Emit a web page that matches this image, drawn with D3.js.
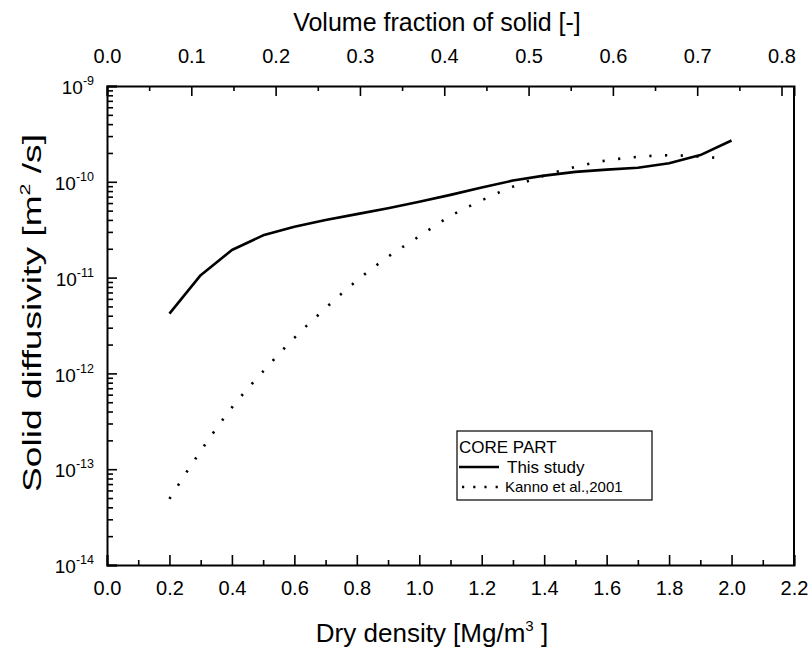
<!DOCTYPE html>
<html><head><meta charset="utf-8">
<script src="https://cdn.jsdelivr.net/npm/d3@7/dist/d3.min.js"></script>
<style>
body{margin:0;background:#fff;}
svg text{font-family:"Liberation Sans",Arial,sans-serif;fill:#000;}
</style></head>
<body><svg id="c" width="811" height="653"></svg>
<script>
// ---- data ----
const densityThisStudy = [0.2,0.3,0.4,0.5,0.6,0.7,0.8,0.9,1.0,1.1,1.2,1.3,1.4,1.5,1.6,1.7,1.8,1.9,2.0];
const diffThisStudy = [4.2e-12,1.06e-11,1.94e-11,2.76e-11,3.4e-11,4.0e-11,4.6e-11,5.3e-11,6.2e-11,7.3e-11,8.7e-11,1.03e-10,1.16e-10,1.27e-10,1.34e-10,1.40e-10,1.56e-10,1.9e-10,2.7e-10];
const densityKanno = [0.2,0.3,0.4,0.5,0.6,0.7,0.8,0.9,1.0,1.1,1.2,1.3,1.4,1.5,1.6,1.7,1.8,1.9,1.98];
const diffKanno = [4.9e-14,1.55e-13,4.4e-13,1.05e-12,2.35e-12,4.8e-12,9.3e-12,1.65e-11,2.7e-11,4.4e-11,6.4e-11,8.9e-11,1.16e-10,1.43e-10,1.67e-10,1.82e-10,1.89e-10,1.83e-10,1.75e-10];
const xTicks = [0,0.2,0.4,0.6,0.8,1.0,1.2,1.4,1.6,1.8,2.0,2.2];
const xMinorTicks = [0.1,0.3,0.5,0.7,0.9,1.1,1.3,1.5,1.7,1.9,2.1];
const topTicks = [0,0.1,0.2,0.3,0.4,0.5,0.6,0.7,0.8];
const topMinorTicks = [0.05,0.15,0.25,0.35,0.45,0.55,0.65,0.75];
const yExponents = [-9,-10,-11,-12,-13,-14];
const particleDensity = 2.7;
const seriesNames = ["This study","Kanno et al.,2001"];
const legendTitle = "CORE PART";

// ---- layout ----
const L=107, R=794, T=86, B=565;
const svg = d3.select("#c");
const x = d3.scaleLinear().domain([0,2.2]).range([L,R]);
const xTop = d3.scaleLinear().domain([0,2.2/particleDensity]).range([L,R]);
const y = d3.scaleLog().domain([1e-14,1e-9]).range([B,T]);
const yMinor = [];
yExponents.slice(0,-1).forEach(e=>{for(let k=2;k<=9;k++) yMinor.push(k*Math.pow(10,e-1));});

function styleAxis(g, fs){
  g.attr("font-size",fs).attr("font-family","Liberation Sans, Arial, sans-serif");
  g.selectAll("path.domain").attr("stroke","#000").attr("stroke-width",2);
  g.selectAll(".tick line").attr("stroke","#000").attr("stroke-width",1.6);
  g.selectAll(".tick text").attr("font-size",fs);
}
function minorStyle(g){g.select("path.domain").remove();g.selectAll("line").attr("stroke","#000").attr("stroke-width",1.6);}

// bottom
const gb = svg.append("g").attr("transform",`translate(0,${B})`)
  .call(d3.axisBottom(x).tickValues(xTicks).tickSize(-10).tickPadding(16).tickFormat(d3.format(".1f")));
styleAxis(gb,20);
svg.append("g").attr("transform",`translate(0,${B})`)
  .call(d3.axisBottom(x).tickValues(xMinorTicks).tickSize(-5).tickFormat("")).call(minorStyle);

// top
const gt = svg.append("g").attr("transform",`translate(0,${T})`)
  .call(d3.axisTop(xTop).tickValues(topTicks).tickSize(-10).tickPadding(23).tickFormat(d3.format(".1f")));
styleAxis(gt,20);
svg.append("g").attr("transform",`translate(0,${T})`)
  .call(d3.axisTop(xTop).tickValues(topMinorTicks).tickSize(-5).tickFormat("")).call(minorStyle);

// left
const gl = svg.append("g").attr("transform",`translate(${L},0)`)
  .call(d3.axisLeft(y).tickValues(yExponents.map(e=>Math.pow(10,e))).tickSize(-10).tickFormat(""));
styleAxis(gl,19);
gl.selectAll(".tick").each(function(d){
  const t = d3.select(this).append("text").attr("x",-13).attr("dy","0.4em").attr("text-anchor","end").attr("font-size",19);
  t.append("tspan").text("10");
  t.append("tspan").attr("dy",-9).attr("font-size",12.5).text(String(Math.round(Math.log10(d))));
});
svg.append("g").attr("transform",`translate(${L},0)`)
  .call(d3.axisLeft(y).tickValues(yMinor).tickSize(-6).tickFormat("")).call(minorStyle);

// right axis line
svg.append("line").attr("x1",R).attr("x2",R).attr("y1",T).attr("y2",B).attr("stroke","#000").attr("stroke-width",2);

// series
const lineLin = d3.line().x(d=>x(d[0])).y(d=>y(d[1]));
const lineSmooth = d3.line().x(d=>x(d[0])).y(d=>y(d[1])).curve(d3.curveMonotoneX);
svg.append("path").datum(densityThisStudy.map((d,i)=>[d,diffThisStudy[i]]))
  .attr("d",lineLin).attr("fill","none").attr("stroke","#000").attr("stroke-width",2.6).attr("stroke-linejoin","round");
svg.append("path").datum(densityKanno.map((d,i)=>[d,diffKanno[i]]))
  .attr("d",lineSmooth).attr("fill","none").attr("stroke","#000").attr("stroke-width",2.6).attr("stroke-dasharray","2.2,13.5");

// axis titles
svg.append("text").attr("x",437).attr("y",31).attr("text-anchor","middle").attr("font-size",25).text("Volume fraction of solid [-]");
const tBot = svg.append("text").attr("x",432).attr("y",642).attr("text-anchor","middle").attr("font-size",26);
tBot.append("tspan").text("Dry density [Mg/m");
tBot.append("tspan").attr("dy",-11).attr("font-size",15).text("3");
tBot.append("tspan").attr("dy",11).text(" ]");
const tLeft = svg.append("text").attr("transform",`translate(41,313) rotate(-90)`).attr("text-anchor","middle").attr("font-size",26)
  .attr("textLength",358).attr("lengthAdjust","spacingAndGlyphs");
tLeft.append("tspan").text("Solid diffusivity [m");
tLeft.append("tspan").attr("dy",-11).attr("font-size",15).text("2");
tLeft.append("tspan").attr("dy",11).text(" /s]");

// legend
const lg = svg.append("g").attr("transform","translate(457,431)");
lg.append("rect").attr("width",195).attr("height",69).attr("fill","#fff").attr("stroke","#000").attr("stroke-width",1.2);
lg.append("text").attr("x",2).attr("y",22).attr("font-size",17).text(legendTitle);
lg.append("line").attr("x1",2).attr("x2",42).attr("y1",36).attr("y2",36).attr("stroke","#000").attr("stroke-width",2.6);
lg.append("text").attr("x",50).attr("y",42).attr("font-size",17).text(seriesNames[0]);
lg.append("line").attr("x1",5).attr("x2",42).attr("y1",56).attr("y2",56).attr("stroke","#000").attr("stroke-width",2.6).attr("stroke-dasharray","2.2,9");
lg.append("text").attr("x",48).attr("y",61).attr("font-size",15).text(seriesNames[1]);
</script></body></html>
